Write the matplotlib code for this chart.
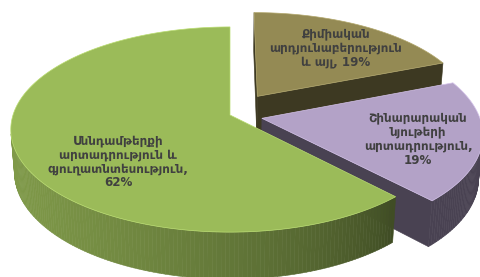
import numpy as np
import matplotlib
matplotlib.use("Agg")
import matplotlib.pyplot as plt
from matplotlib.patches import Polygon
from matplotlib.collections import PolyCollection

# ---- data ----
categories = ["Քիմիական\nարդյունաբերություն\nև այլ",
              "Շինարարական\nնյութերի\nարտադրություն",
              "Սննդամթերքի\nարտադրություն և\nգյուղատնտեսություն"]
values = [19, 19, 62]
pct_sep = [" ", "\n", "\n"]

# ---- style ----
top_colors = ["#948A54", "#B3A2C7", "#9BBB59"]
explode = [0.23, 0.15, 0.0]
label_pos = [(37, 0.68), (106, 0.72), (228, 0.65)]  # (angle deg clockwise from top, radius frac)

W, H = 480, 277
fig = plt.figure(figsize=(W / 100, H / 100), dpi=100)
ax = fig.add_axes([0, 0, 1, 1])
ax.set_xlim(0, W)
ax.set_ylim(H, 0)
ax.axis("off")

# camera / projection
phi = np.radians(27.6)
s, c = np.sin(phi), np.cos(phi)
D = 6.26
f = 217 * D
cx, cy = 230, 115
h = 0.224
cam = np.array([0.0, -D * c, D * s])


def proj(X, Y, Z):
    d = D + Y * c - Z * s
    return cx + X * f / d, cy - (Y * s + Z * c) * f / d


def rgb(hexc):
    return np.array(matplotlib.colors.to_rgb(hexc))


def wall_shade(col, xpix):
    t = np.clip((390 - xpix) / 375, 0, 1)
    return np.clip(col * (0.41 + 0.41 * t ** 0.7), 0, 1)


def visible(n, p):
    return np.dot(n, cam - p) > 1e-6


total = sum(values)
starts = np.cumsum([0] + values[:-1]) / total * 2 * np.pi
ends = np.cumsum(values) / total * 2 * np.pi

slices = []
for i in range(len(values)):
    t1, t2 = starts[i], ends[i]
    tm = (t1 + t2) / 2
    ox, oy = explode[i] * np.sin(tm), explode[i] * np.cos(tm)
    depth = D + (oy + 0.5 * np.cos(tm)) * c
    slices.append((depth, i, t1, t2, ox, oy))
slices.sort(key=lambda t: -t[0])

for depth, i, t1, t2, ox, oy in slices:
    col = rgb(top_colors[i])
    th = np.linspace(t1, t2, max(8, int((t2 - t1) / np.radians(1))))
    X = ox + np.sin(th)
    Y = oy + np.cos(th)
    polys, cols = [], []
    # radial faces
    for t, sign in ((t1, -1), (t2, 1)):
        n = np.array([sign * np.cos(t), -sign * np.sin(t), 0.0])
        pm = np.array([ox + 0.5 * np.sin(t), oy + 0.5 * np.cos(t), -h / 2])
        if visible(n, pm):
            pts3 = [(ox, oy, 0), (ox + np.sin(t), oy + np.cos(t), 0),
                    (ox + np.sin(t), oy + np.cos(t), -h), (ox, oy, -h)]
            polys.append([proj(*p) for p in pts3])
            cols.append(np.clip(col * 0.41, 0, 1))
    # outer wall
    for k in range(len(th) - 1):
        tm = (th[k] + th[k + 1]) / 2
        n = np.array([np.sin(tm), np.cos(tm), 0.0])
        pm = np.array([ox + np.sin(tm), oy + np.cos(tm), -h / 2])
        if visible(n, pm):
            quad = [proj(X[k], Y[k], 0), proj(X[k + 1], Y[k + 1], 0),
                    proj(X[k + 1], Y[k + 1], -h), proj(X[k], Y[k], -h)]
            polys.append(quad)
            cols.append(wall_shade(col, np.mean([q[0] for q in quad])))
    if polys:
        ax.add_collection(PolyCollection(polys, facecolors=cols, edgecolors=cols,
                                         linewidths=0.4))
    # top face
    top = [proj(ox, oy, 0)] + [proj(x, y, 0) for x, y in zip(X, Y)]
    ax.add_patch(Polygon(top, closed=True, facecolor=col,
                         edgecolor=np.clip(col * 1.1 + 0.06, 0, 1), linewidth=0.5))

# labels
for i in range(len(values)):
    tm = (starts[i] + ends[i]) / 2
    ox, oy = explode[i] * np.sin(tm), explode[i] * np.cos(tm)
    a, r = label_pos[i]
    a = np.radians(a)
    x, y = proj(ox + r * np.sin(a), oy + r * np.cos(a), 0)
    txt = f"{categories[i]},{pct_sep[i]}{values[i]}%"
    ax.text(x, y, txt, ha="center", va="center", fontsize=8.6, fontweight="bold",
            color="#404040", family="DejaVu Sans", linespacing=1.1)

fig.savefig("out.png", dpi=100)
